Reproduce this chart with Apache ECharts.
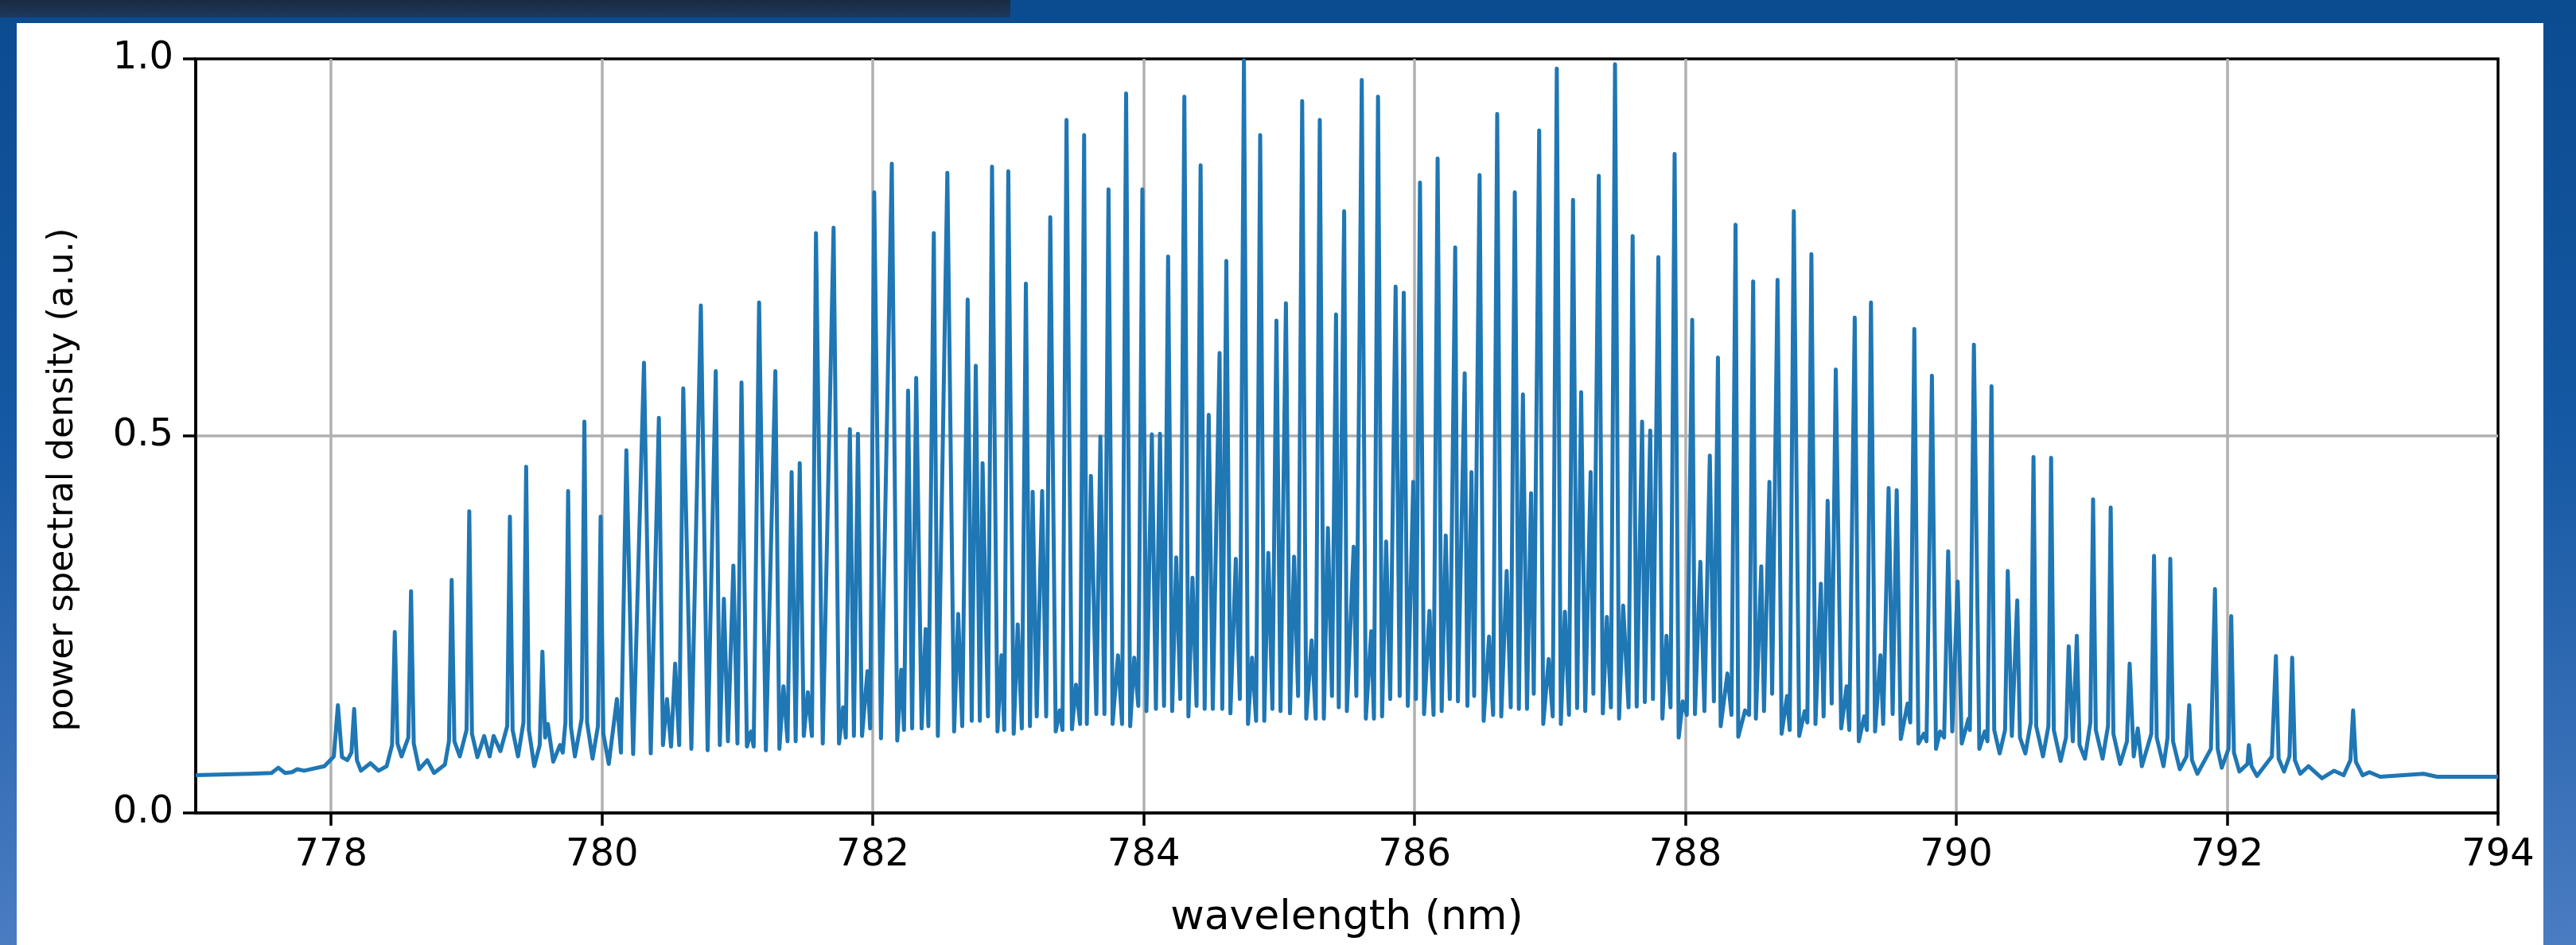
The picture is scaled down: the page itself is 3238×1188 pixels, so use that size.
<!DOCTYPE html>
<html lang="en">
<head>
<meta charset="UTF-8">
<title>power spectral density</title>
<script src="https://cdn.jsdelivr.net/npm/echarts@6.0.0/dist/echarts.min.js"></script>
<style>
  html, body { margin: 0; padding: 0; width: 3238px; height: 1188px; overflow: hidden; }
  body { position: relative; background: linear-gradient(180deg, #0b4b90 0%, #1558a3 45%, #4a7cc2 100%); }
  .topbar { position: absolute; left: 0; top: 0; width: 1270px; height: 22px; background: linear-gradient(180deg, #1a2a40, #1d3a62); }
  .panel { position: absolute; left: 21px; top: 29px; width: 3176px; height: 1159px; background: #fff; }
  #chart { position: absolute; left: 0; top: 0; width: 3238px; height: 1188px; }
</style>
</head>
<body>
<div class="topbar"></div>
<div class="panel"></div>
<div id="chart"></div>
<script>
// wavelength (nm) of each vertex of the traced spectrum, peaks and valleys in order
var wavelength = [
  777.00, 777.40, 777.56, 777.61, 777.66, 777.71, 777.75, 777.80, 777.95, 778.02,
  778.05, 778.08, 778.12, 778.15, 778.17, 778.19, 778.22, 778.29, 778.35, 778.41,
  778.45, 778.47, 778.49, 778.52, 778.57, 778.59, 778.61, 778.65, 778.71, 778.76,
  778.84, 778.87, 778.89, 778.91, 778.95, 779.00, 779.02, 779.04, 779.08, 779.13,
  779.17, 779.20, 779.25, 779.30, 779.32, 779.34, 779.38, 779.42, 779.44, 779.46,
  779.50, 779.54, 779.56, 779.58, 779.60, 779.64, 779.69, 779.71, 779.73, 779.75,
  779.77, 779.80, 779.85, 779.87, 779.89, 779.93, 779.97, 779.99, 780.01, 780.05,
  780.11, 780.14,
  780.18, 780.23, 780.31, 780.36, 780.42, 780.45, 780.48, 780.51, 780.54, 780.57,
  780.60, 780.66, 780.73, 780.78, 780.84, 780.87, 780.90, 780.93, 780.97, 781.00,
  781.03, 781.07, 781.10, 781.12, 781.16, 781.21, 781.28, 781.31, 781.34, 781.37,
  781.40, 781.43, 781.46, 781.49, 781.52, 781.55, 781.58, 781.63, 781.71, 781.75,
  781.78, 781.80, 781.83, 781.86, 781.89, 781.92, 781.96, 781.98, 782.01, 782.06,
  782.14, 782.18, 782.21, 782.23, 782.26, 782.29, 782.32, 782.36, 782.39, 782.41,
  782.45, 782.48, 782.55, 782.60, 782.63, 782.66, 782.70, 782.73, 782.76, 782.79,
  782.81, 782.85, 782.88, 782.92, 782.95, 782.97, 783.00, 783.04, 783.07, 783.10,
  783.13, 783.16, 783.18, 783.21, 783.25, 783.28, 783.31, 783.35, 783.38, 783.40,
  783.43, 783.47, 783.50, 783.53, 783.56, 783.58, 783.61, 783.65, 783.68, 783.71,
  783.74, 783.77, 783.81, 783.84, 783.87, 783.90, 783.93, 783.96, 783.99, 784.02,
  784.06, 784.09, 784.12, 784.15, 784.18, 784.21, 784.24, 784.27, 784.30, 784.33,
  784.36, 784.39, 784.42, 784.45, 784.48, 784.51, 784.56, 784.58, 784.61, 784.64,
  784.68, 784.71, 784.74, 784.77, 784.80, 784.83, 784.86, 784.89, 784.92, 784.95,
  784.98, 785.01, 785.05, 785.08, 785.11, 785.14, 785.17, 785.20, 785.24, 785.27,
  785.30, 785.33, 785.36, 785.39, 785.42, 785.44, 785.48, 785.50, 785.55, 785.57,
  785.61, 785.64, 785.68, 785.70, 785.73, 785.76, 785.79, 785.82, 785.86, 785.89,
  785.92, 785.95, 785.99, 786.01, 786.04, 786.07, 786.11, 786.14, 786.17, 786.20,
  786.23, 786.26, 786.30, 786.32, 786.37, 786.39, 786.42, 786.44, 786.48, 786.51,
  786.55, 786.58, 786.61, 786.64, 786.68, 786.71, 786.74, 786.77, 786.80, 786.83,
  786.86, 786.88, 786.92, 786.95, 786.99, 787.02, 787.05, 787.08, 787.11, 787.14,
  787.17, 787.20, 787.23, 787.26, 787.30, 787.32, 787.36, 787.39, 787.42, 787.45,
  787.48, 787.51, 787.54, 787.58, 787.61, 787.64, 787.68, 787.70, 787.74, 787.76,
  787.80, 787.83, 787.86, 787.89, 787.92, 787.95, 787.98, 788.01, 788.05, 788.07,
  788.11, 788.14, 788.18, 788.21, 788.24, 788.26, 788.31, 788.34, 788.37, 788.39,
  788.44, 788.47, 788.50, 788.52, 788.56, 788.58, 788.62, 788.64, 788.68, 788.71,
  788.75, 788.77, 788.80, 788.84, 788.88, 788.90, 788.93, 788.96, 789.00, 789.02,
  789.05, 789.08, 789.11, 789.15, 789.19, 789.21, 789.25, 789.28, 789.32, 789.34,
  789.37, 789.40, 789.44, 789.46, 789.50, 789.53, 789.56, 789.59, 789.64, 789.66,
  789.69, 789.72, 789.76, 789.78, 789.82, 789.85, 789.88, 789.91, 789.94, 789.97,
  790.01, 790.04, 790.09, 790.10, 790.13, 790.17, 790.21, 790.23, 790.26, 790.28,
  790.32, 790.36, 790.38, 790.41, 790.45, 790.47, 790.51, 790.55, 790.57, 790.59,
  790.64, 790.68, 790.70, 790.72, 790.77, 790.81, 790.83, 790.86, 790.89, 790.91,
  790.95, 790.99, 791.01, 791.03, 791.08, 791.12, 791.14, 791.16, 791.21, 791.26,
  791.28, 791.31, 791.34, 791.37, 791.44, 791.46, 791.48, 791.53, 791.56, 791.58,
  791.60, 791.65, 791.70, 791.72, 791.74, 791.78, 791.88, 791.91, 791.93, 791.96,
  792.01, 792.03, 792.05, 792.09, 792.15, 792.16, 792.18, 792.22, 792.33, 792.36,
  792.38, 792.42, 792.46, 792.48, 792.50, 792.54, 792.60, 792.70, 792.79, 792.86,
  792.91, 792.93, 792.95, 793.00, 793.05, 793.13, 793.45, 793.55, 794.00
];

// power spectral density (a.u.) at the same vertices
var psd = [
  0.050, 0.052, 0.053, 0.060, 0.053, 0.054, 0.058, 0.056, 0.062, 0.075,
  0.143, 0.074, 0.070, 0.080, 0.138, 0.070, 0.056, 0.066, 0.056, 0.062,
  0.090, 0.240, 0.092, 0.075, 0.100, 0.294, 0.092, 0.058, 0.070, 0.053,
  0.064, 0.095, 0.309, 0.095, 0.075, 0.110, 0.400, 0.105, 0.074, 0.102,
  0.075, 0.102, 0.082, 0.115, 0.393, 0.110, 0.075, 0.120, 0.459, 0.110,
  0.062, 0.090, 0.214, 0.100, 0.118, 0.068, 0.090, 0.080, 0.120, 0.427,
  0.115, 0.075, 0.125, 0.519, 0.120, 0.072, 0.115, 0.393, 0.105, 0.065,
  0.151, 0.080,
  0.481, 0.078, 0.597, 0.079, 0.524, 0.090, 0.151, 0.088, 0.198, 0.090,
  0.563, 0.085, 0.673, 0.083, 0.586, 0.090, 0.284, 0.095, 0.328, 0.092,
  0.571, 0.088, 0.108, 0.088, 0.677, 0.083, 0.586, 0.085, 0.168, 0.095,
  0.452, 0.095, 0.464, 0.102, 0.160, 0.102, 0.769, 0.092, 0.776, 0.092,
  0.140, 0.100, 0.509, 0.102, 0.503, 0.102, 0.188, 0.112, 0.823, 0.099,
  0.861, 0.096, 0.190, 0.110, 0.560, 0.112, 0.577, 0.112, 0.244, 0.115,
  0.769, 0.102, 0.849, 0.108, 0.264, 0.115, 0.681, 0.122, 0.593, 0.122,
  0.464, 0.128, 0.857, 0.108, 0.209, 0.110, 0.851, 0.105, 0.250, 0.112,
  0.702, 0.115, 0.426, 0.128, 0.427, 0.128, 0.790, 0.108, 0.136, 0.110,
  0.919, 0.111, 0.170, 0.118, 0.899, 0.118, 0.447, 0.131, 0.499, 0.131,
  0.827, 0.118, 0.209, 0.118, 0.954, 0.115, 0.206, 0.142, 0.827, 0.135,
  0.502, 0.138, 0.503, 0.142, 0.738, 0.135, 0.339, 0.151, 0.950, 0.128,
  0.312, 0.142, 0.859, 0.138, 0.528, 0.138, 0.610, 0.138, 0.732, 0.132,
  0.337, 0.151, 0.998, 0.118, 0.206, 0.122, 0.899, 0.122, 0.345, 0.138,
  0.653, 0.135, 0.676, 0.132, 0.340, 0.155, 0.944, 0.125, 0.229, 0.125,
  0.919, 0.125, 0.378, 0.155, 0.661, 0.140, 0.798, 0.135, 0.353, 0.155,
  0.972, 0.125, 0.241, 0.125, 0.950, 0.128, 0.360, 0.151, 0.698, 0.155,
  0.690, 0.142, 0.439, 0.151, 0.836, 0.131, 0.268, 0.130, 0.868, 0.135,
  0.368, 0.151, 0.750, 0.148, 0.583, 0.142, 0.452, 0.155, 0.846, 0.122,
  0.234, 0.130, 0.927, 0.128, 0.321, 0.140, 0.823, 0.138, 0.555, 0.138,
  0.424, 0.158, 0.905, 0.118, 0.204, 0.128, 0.987, 0.118, 0.267, 0.130,
  0.813, 0.139, 0.558, 0.135, 0.452, 0.158, 0.845, 0.132, 0.260, 0.140,
  0.993, 0.125, 0.275, 0.140, 0.765, 0.141, 0.519, 0.147, 0.507, 0.151,
  0.737, 0.125, 0.235, 0.140, 0.874, 0.100, 0.148, 0.130, 0.654, 0.131,
  0.333, 0.135, 0.474, 0.148, 0.604, 0.115, 0.185, 0.130, 0.780, 0.101,
  0.136, 0.130, 0.705, 0.125, 0.327, 0.135, 0.439, 0.158, 0.707, 0.105,
  0.155, 0.110, 0.798, 0.102, 0.135, 0.120, 0.741, 0.118, 0.304, 0.128,
  0.414, 0.145, 0.588, 0.112, 0.168, 0.110, 0.657, 0.095, 0.128, 0.110,
  0.677, 0.108, 0.209, 0.118, 0.431, 0.131, 0.428, 0.098, 0.145, 0.120,
  0.642, 0.092, 0.105, 0.095, 0.580, 0.085, 0.108, 0.100, 0.347, 0.108,
  0.307, 0.092, 0.125, 0.110, 0.621, 0.085, 0.108, 0.095, 0.566, 0.110,
  0.079, 0.110, 0.321, 0.102, 0.282, 0.100, 0.079, 0.120, 0.472, 0.115,
  0.075, 0.115, 0.471, 0.110, 0.069, 0.100, 0.221, 0.095, 0.235, 0.090,
  0.072, 0.120, 0.416, 0.110, 0.072, 0.115, 0.405, 0.105, 0.065, 0.095,
  0.198, 0.075, 0.112, 0.062, 0.105, 0.341, 0.100, 0.062, 0.100, 0.337,
  0.095, 0.058, 0.075, 0.143, 0.070, 0.052, 0.085, 0.297, 0.085, 0.060,
  0.085, 0.261, 0.080, 0.055, 0.065, 0.090, 0.062, 0.049, 0.075, 0.208,
  0.072, 0.055, 0.075, 0.206, 0.070, 0.052, 0.062, 0.046, 0.056, 0.050,
  0.070, 0.136, 0.068, 0.050, 0.054, 0.048, 0.052, 0.048, 0.048
];

var xTicks = [778, 780, 782, 784, 786, 788, 790, 792, 794];
var yTicks = [0, 0.5, 1];

if (wavelength.length !== psd.length) {
  console.log('length mismatch', wavelength.length, psd.length);
}
var spectrum = wavelength.map(function (w, i) {
  return [w, psd[i]];
});

var chart = echarts.init(document.getElementById('chart'));

var font = 'DejaVu Sans';
option = {
  backgroundColor: 'transparent',
  animation: false,
  grid: {
    left: 246,
    top: 74,
    width: 2894,
    height: 948,
    show: true,
    borderColor: '#000',
    borderWidth: 3.5
  },
  xAxis: {
    type: 'value',
    min: 777,
    max: 794,
    interval: 1,
    name: 'wavelength (nm)',
    nameLocation: 'middle',
    nameGap: 104,
    nameTextStyle: { fontFamily: font, fontSize: 52, color: '#000', lineHeight: 56 },
    axisLine: { show: true, onZero: false, lineStyle: { color: '#000', width: 3.5 } },
    axisTick: { show: true, customValues: xTicks, length: 16, lineStyle: { color: '#000', width: 3.5 } },
    axisLabel: {
      customValues: xTicks,
      margin: 30,
      fontFamily: font,
      fontSize: 48,
      color: '#000'
    },
    // split lines follow the custom ticks; the one at 794 would cover the right spine
    splitLine: { show: true, showMaxLine: false, lineStyle: { color: '#b0b0b0', width: 3.5 } }
  },
  yAxis: {
    type: 'value',
    min: yTicks[0],
    max: yTicks[yTicks.length - 1],
    interval: 0.5,
    name: 'power spectral density (a.u.)',
    nameLocation: 'middle',
    nameGap: 140,
    // right padding nudges the rotated title a little below the axis centre
    nameTextStyle: { fontFamily: font, fontSize: 44, color: '#000', lineHeight: 52, padding: [0, 110, 0, 0] },
    axisLine: { show: true, lineStyle: { color: '#000', width: 3.5 } },
    axisTick: { show: true, length: 16, lineStyle: { color: '#000', width: 3.5 } },
    axisLabel: {
      margin: 28,
      fontFamily: font,
      fontSize: 48,
      color: '#000',
      formatter: function (v) { return v.toFixed(1); }
    },
    splitLine: { show: true, showMinLine: false, showMaxLine: false, lineStyle: { color: '#b0b0b0', width: 3.5 } }
  },
  series: [{
    type: 'line',
    data: spectrum,
    showSymbol: false,
    clip: true,
    lineStyle: { color: '#1f77b4', width: 5, join: 'round' },
    z: 3
  }]
};

chart.setOption(option);
</script>
</body>
</html>
